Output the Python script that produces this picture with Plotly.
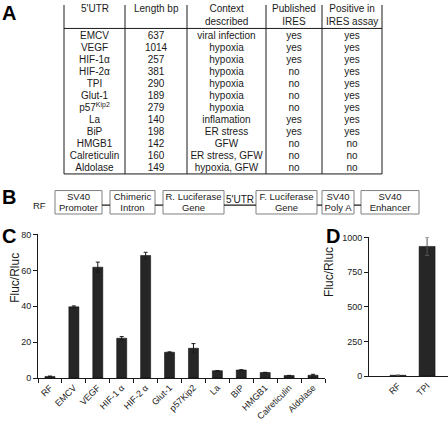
import plotly.graph_objects as go

# ---------------- data ----------------
table_headers = ["5'UTR", "Length bp", "Context<br>described", "Published<br>IRES", "Positive in<br>IRES assay"]
utr_names = ["EMCV", "VEGF", "HIF-1α", "HIF-2α", "TPI", "Glut-1", "p57<sup>Kip2</sup>",
             "La", "BiP", "HMGB1", "Calreticulin", "Aldolase"]
lengths_bp = [637, 1014, 257, 381, 290, 189, 279, 140, 198, 142, 160, 149]
contexts = ["viral infection", "hypoxia", "hypoxia", "hypoxia", "hypoxia", "hypoxia", "hypoxia",
            "inflamation", "ER stress", "GFW", "ER stress, GFW", "hypoxia, GFW"]
published_ires = ["yes", "yes", "yes", "no", "no", "no", "no", "yes", "yes", "no", "no", "no"]
positive_ires = ["yes", "yes", "yes", "yes", "yes", "yes", "yes", "yes", "yes", "no", "no", "no"]

construct_name = "RF"
construct_parts = [("SV40", "Promoter"), ("Chimeric", "Intron"), ("R. Luciferase", "Gene"),
                   ("F. Luciferase", "Gene"), ("SV40", "Poly A"), ("SV40", "Enhancer")]
utr_label = "5'UTR"

c_categories = ["RF", "EMCV", "VEGF", "HIF-1 α", "HIF-2 α", "Glut-1", "p57Kip2",
                "La", "BiP", "HMGB1", "Calreticulin", "Aldolase"]
c_values = [0.9, 39.7, 61.8, 22.2, 68.3, 14.4, 16.6, 4.1, 4.5, 3.1, 1.4, 1.6]
c_errors = [0.2, 0.5, 2.8, 0.9, 1.8, 0.2, 2.6, 0.1, 0.1, 0.1, 0.1, 0.5]
c_yticks = [0, 20, 40, 60, 80]

d_categories = ["RF", "TPI"]
d_values = [6, 935]
d_errors = [0, 65]
d_yticks = [0, 250, 500, 750, 1000]

y_title = "Fluc/Rluc"
panel_labels = ["A", "B", "C", "D"]

# ---------------- layout constants (pixels) ----------------
W, H = 448, 427
FONT = "Liberation Sans, Arial, Helvetica, sans-serif"
INK = "#1a1a1a"
BAR = "#262626"

col_edges = [64, 125, 187, 266, 322, 382]
tbl_head_line, tbl_bottom = 24, 173
row_top, row_h = 32, 12.3

box_edges = [(55, 102), (110, 155), (163, 224), (256, 317), (322, 354), (361, 419)]
box_top, box_bot, link_y = 190, 214, 205
line1_y, line2_y = 197, 208


def fx(p):
    return p / W


def fy(p):
    return 1 - p / H


fig = go.Figure()

# ---- panel C ----
fig.add_trace(go.Bar(
    x=c_categories, y=c_values, width=0.42,
    marker=dict(color=BAR, line=dict(color="#000", width=0.5)),
    error_y=dict(type="data", array=c_errors, color=INK, thickness=1, width=2),
    xaxis="x", yaxis="y", hoverinfo="skip"))

# ---- panel D ----
fig.add_trace(go.Bar(
    x=d_categories, y=d_values, width=0.55,
    marker=dict(color=BAR, line=dict(color="#000", width=0.5)),
    error_y=dict(type="data", array=d_errors, color="#555", thickness=1, width=2),
    xaxis="x2", yaxis="y2", hoverinfo="skip"))

# ---- panel A: table (text cells on a pixel-scaled overlay axis) ----
centers = [(col_edges[j] + col_edges[j + 1]) / 2 for j in range(5)]
row_ys = [row_top + row_h * i for i in range(len(utr_names))]
columns = [utr_names, [str(v) for v in lengths_bp], contexts, published_ires, positive_ires]
for j, col in enumerate(columns):
    fig.add_trace(go.Scatter(
        x=[centers[j]] * len(col), y=row_ys, mode="text", text=col,
        textfont=dict(family=FONT, size=10, color=INK),
        xaxis="x3", yaxis="y3", hoverinfo="skip"))

annotations = []
for j, h in enumerate(table_headers):
    annotations.append(dict(x=centers[j], y=0, xref="x3", yref="y3", text=h, showarrow=False,
                            yanchor="top", xanchor="center", yshift=4,
                            font=dict(family=FONT, size=10, color=INK)))

shapes = []
for e in col_edges:
    shapes.append(dict(type="line", xref="x3", yref="y3", x0=e, x1=e, y0=0, y1=tbl_bottom,
                       line=dict(color=INK, width=1)))
for yy in (tbl_head_line, tbl_bottom):
    shapes.append(dict(type="line", xref="x3", yref="y3", x0=col_edges[0], x1=col_edges[-1],
                       y0=yy, y1=yy, line=dict(color=INK, width=1)))

# ---- panel B: construct diagram ----
bx_centers = [(a + b) / 2 for a, b in box_edges]
fig.add_trace(go.Scatter(
    x=bx_centers, y=[line1_y] * len(construct_parts), mode="text",
    text=[p[0] for p in construct_parts],
    textfont=dict(family=FONT, size=9.5, color=INK), xaxis="x3", yaxis="y3", hoverinfo="skip"))
fig.add_trace(go.Scatter(
    x=bx_centers, y=[line2_y] * len(construct_parts), mode="text",
    text=[p[1] for p in construct_parts],
    textfont=dict(family=FONT, size=9.5, color=INK), xaxis="x3", yaxis="y3", hoverinfo="skip"))

for a, b in box_edges:
    shapes.append(dict(type="rect", xref="x3", yref="y3", x0=a, x1=b, y0=box_top, y1=box_bot,
                       line=dict(color="#808080", width=1), fillcolor="rgba(0,0,0,0)"))
for k in range(len(box_edges) - 1):
    shapes.append(dict(type="line", xref="x3", yref="y3", x0=box_edges[k][1], x1=box_edges[k + 1][0],
                       y0=link_y, y1=link_y, line=dict(color=INK, width=1.2)))

annotations.append(dict(x=(box_edges[2][1] + box_edges[3][0]) / 2, y=199, xref="x3", yref="y3",
                        text=utr_label, showarrow=False, font=dict(family=FONT, size=10, color=INK)))
annotations.append(dict(x=39, y=205, xref="x3", yref="y3", text=construct_name, showarrow=False,
                        font=dict(family=FONT, size=9.5, color=INK)))

# ---- axis titles ----
annotations.append(dict(x=fx(6), y=fy(307), xref="paper", yref="paper", text=y_title, textangle=-90,
                        showarrow=False, font=dict(family=FONT, size=12, color=INK)))
annotations.append(dict(x=fx(338), y=fy(301), xref="paper", yref="paper", text=y_title, textangle=-90,
                        showarrow=False, font=dict(family=FONT, size=12, color=INK)))

# ---- panel letters ----
for lab, (px, py) in zip(panel_labels, [(0, 8), (0, 197), (0, 237), (324, 237)]):
    annotations.append(dict(x=fx(px), y=fy(py), xref="paper", yref="paper", text="<b>%s</b>" % lab,
                            xanchor="left", yanchor="middle", showarrow=False,
                            font=dict(family=FONT, size=20, color="#000")))

axis_common = dict(showgrid=False, zeroline=False, showline=True, linecolor=INK, linewidth=1,
                   tickcolor=INK, tickwidth=1, ticklen=4, ticks="outside",
                   tickfont=dict(family=FONT, size=9, color=INK), fixedrange=True)

fig.update_layout(
    width=W, height=H, margin=dict(l=0, r=0, t=0, b=0),
    paper_bgcolor="white", plot_bgcolor="rgba(0,0,0,0)", showlegend=False,
    xaxis=dict(axis_common, domain=[fx(38), fx(325)], type="category", range=[-0.5, 11.5],
               tickson="boundaries", tickangle=-45, anchor="y"),
    yaxis=dict(axis_common, domain=[fy(382), fy(235)], range=[0, 80], tickvals=c_yticks, anchor="x"),
    xaxis2=dict(axis_common, domain=[fx(369), 1], type="category", range=[-1, 1.72],
                ticks="", tickangle=-45, anchor="y2"),
    yaxis2=dict(axis_common, domain=[fy(380), fy(238)], range=[0, 1000], tickvals=d_yticks, anchor="x2"),
    xaxis3=dict(domain=[0, 1], range=[0, W], visible=False, fixedrange=True, anchor="y3"),
    yaxis3=dict(domain=[fy(220), 1], range=[220, 0], visible=False, fixedrange=True, anchor="x3"),
    annotations=annotations, shapes=shapes,
)

fig.write_html("out.html", config={"displayModeBar": False},
               post_script="document.body.style.margin='0';document.body.style.padding='0';"
                           "document.documentElement.style.overflow='hidden';")
